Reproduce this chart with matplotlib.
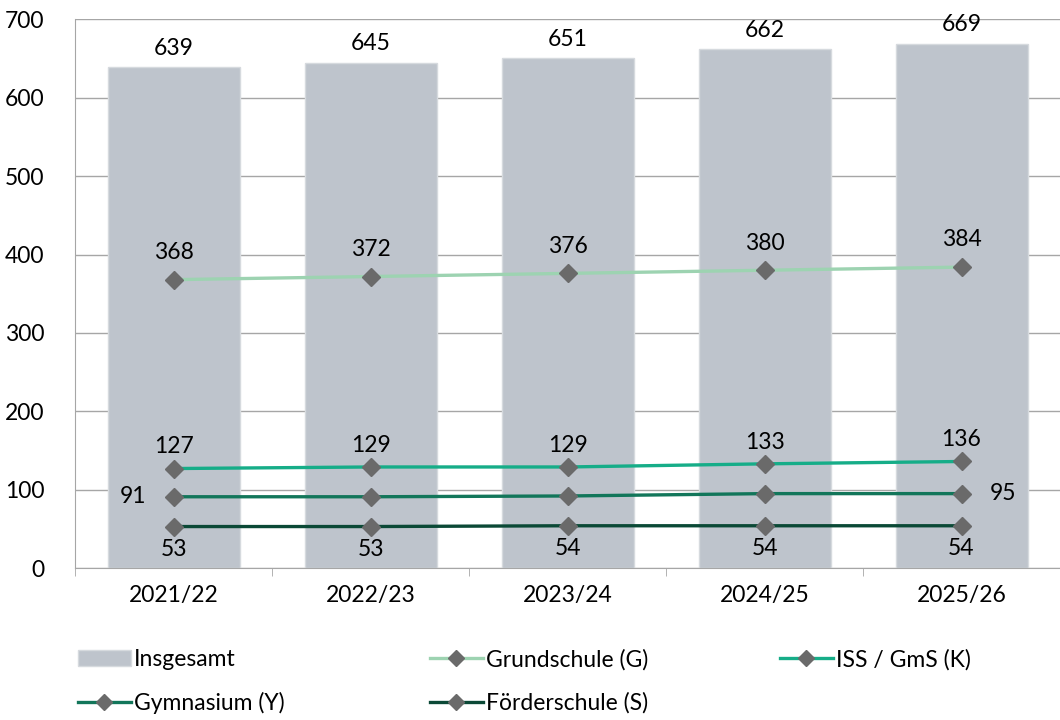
#!/usr/bin/env python3
"""Schülerzahlen nach Schulart: Balken (Insgesamt) und Linien je Schulart."""

import matplotlib
matplotlib.use("Agg")
import matplotlib.pyplot as plt
import numpy as np
from matplotlib.lines import Line2D
from matplotlib.patches import Patch

years = ["2021/22", "2022/23", "2023/24", "2024/25", "2025/26"]
insgesamt = [639, 645, 651, 662, 669]
grundschule = [368, 372, 376, 380, 384]
iss_gms = [127, 129, 129, 133, 136]
gymnasium = [91, 91, 92, 95, 95]
foerderschule = [53, 53, 54, 54, 54]

plt.rcParams["font.family"] = ["Lato", "DejaVu Sans"]

BAR_COLOR = "#bec4cc"
MARKER_COLOR = "#6a6a6a"

fig = plt.figure(figsize=(10.6, 7.2), dpi=100)
ax = fig.add_axes([0.071, 0.211, 0.929, 0.762])

x = np.arange(len(years))
ax.bar(x, insgesamt, width=0.67, color=BAR_COLOR, edgecolor="#d6dade", linewidth=1, zorder=2)

series = [
    ("Grundschule (G)", grundschule, "#9dd3b1"),
    ("ISS / GmS (K)", iss_gms, "#16ad88"),
    ("Gymnasium (Y)", gymnasium, "#12765a"),
    ("Förderschule (S)", foerderschule, "#0b4936"),
]
for name, vals, col in series:
    ax.plot(x, vals, color=col, linewidth=2.4, marker="D", markersize=9,
            markerfacecolor=MARKER_COLOR, markeredgecolor=MARKER_COLOR, zorder=3)

fs = 16.5
for i in x:
    ax.annotate(str(insgesamt[i]), (i, insgesamt[i]), xytext=(0, 6), textcoords="offset points",
                ha="center", va="bottom", fontsize=fs)
    ax.annotate(str(grundschule[i]), (i, grundschule[i]), xytext=(0, 12), textcoords="offset points",
                ha="center", va="bottom", fontsize=fs)
    ax.annotate(str(iss_gms[i]), (i, iss_gms[i]), xytext=(0, 8), textcoords="offset points",
                ha="center", va="bottom", fontsize=fs)
    ax.annotate(str(foerderschule[i]), (i, foerderschule[i]), xytext=(0, -9), textcoords="offset points",
                ha="center", va="top", fontsize=fs)
ax.annotate(str(gymnasium[0]), (0, gymnasium[0]), xytext=(-20, 0), textcoords="offset points",
            ha="right", va="center", fontsize=fs)
ax.annotate(str(gymnasium[-1]), (4, gymnasium[-1]), xytext=(20, 0), textcoords="offset points",
            ha="left", va="center", fontsize=fs)

ax.set_xlim(-0.5, 4.5)
ax.set_ylim(0, 700)
ax.set_yticks(range(0, 701, 100))
ax.yaxis.grid(True, color="#a6a6a6", linewidth=1)
ax.set_axisbelow(True)
ax.set_xticks(x)
ax.set_xticklabels(years, fontsize=fs)
ax.set_xticks(np.arange(-0.5, 5.0, 1.0), minor=True)
ax.tick_params(axis="x", which="major", length=0, pad=12)
ax.tick_params(axis="x", which="minor", length=6, color="#a6a6a6")
ax.tick_params(axis="y", length=0, pad=22, labelsize=fs)
for s in ["top", "right"]:
    ax.spines[s].set_visible(False)
ax.spines["left"].set_color("#a6a6a6")
ax.spines["bottom"].set_color("#a6a6a6")


def line_handle(col):
    return Line2D([], [], color=col, linewidth=2.4, marker="D", markersize=8,
                  markerfacecolor=MARKER_COLOR, markeredgecolor=MARKER_COLOR)


# one legend per column so the columns sit where the reference puts them
columns = [
    (78, [Patch(facecolor=BAR_COLOR, edgecolor="#d6dade"), line_handle("#12765a")],
     ["Insgesamt", "Gymnasium (Y)"]),
    (430, [line_handle("#9dd3b1"), line_handle("#0b4936")],
     ["Grundschule (G)", "Förderschule (S)"]),
    (780, [line_handle("#16ad88")], ["ISS / GmS (K)"]),
]
for x_px, hs, ls in columns:
    fig.legend(hs, ls, loc="upper left", bbox_to_anchor=(x_px / 1060, 1 - 649 / 720),
               frameon=False, fontsize=fs, handlelength=2.3, handletextpad=0.15,
               labelspacing=0.95, borderaxespad=0, borderpad=0)

fig.savefig("out.png", dpi=100)
